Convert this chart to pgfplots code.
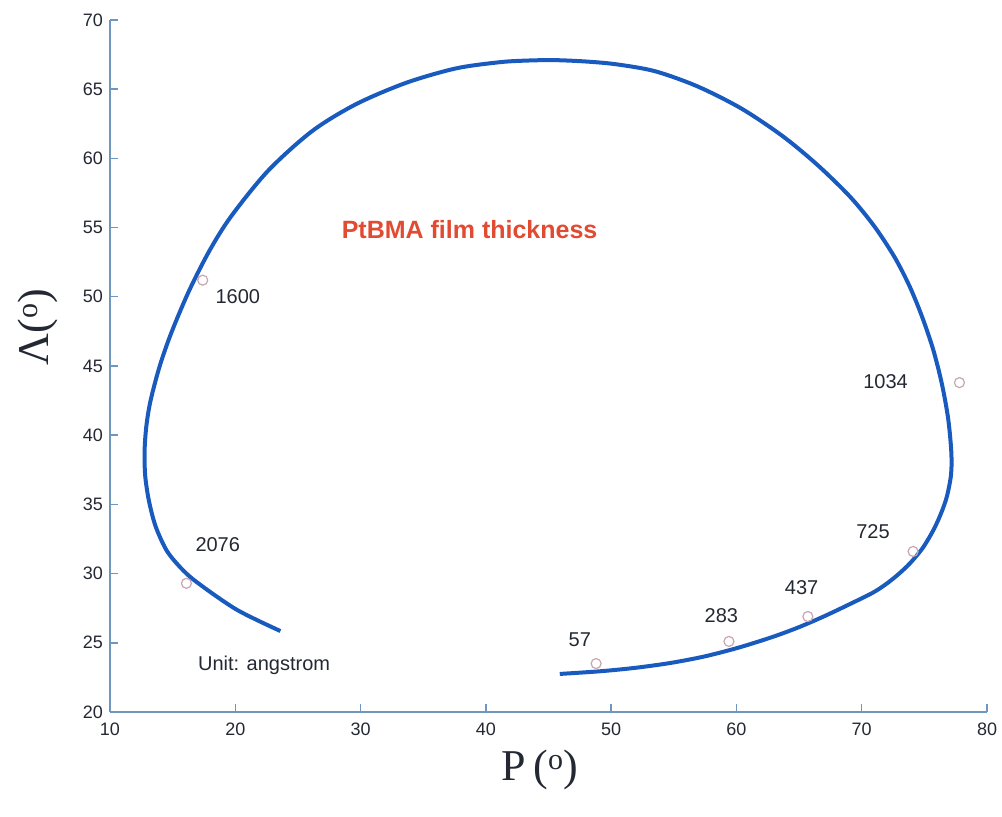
\documentclass[border=0pt]{standalone}
\usepackage{pgfplots}
\pgfplotsset{compat=1.18}
\usepackage{fontspec}
\setmainfont{Liberation Sans}
\newfontfamily\seriffont{Liberation Serif}
\definecolor{curveblue}{RGB}{25,90,190}
\definecolor{axcol}{RGB}{110,150,190}
\definecolor{mk}{RGB}{200,165,175}
\definecolor{titlered}{RGB}{225,75,50}
\definecolor{lab}{RGB}{35,40,50}
\begin{document}
\begin{tikzpicture}
\begin{axis}[
  scale only axis, width=438.5pt, height=346pt,
  xmin=10, xmax=80, ymin=20, ymax=70,
  axis lines*=left,
  axis line style={-, draw=axcol, line width=0.7pt},
  tick align=inside, major tick length=4pt,
  tick style={draw=axcol, line width=0.7pt},
  xtick={10,20,...,80}, ytick={20,25,...,70},
  ticklabel style={font=\fontsize{9}{10}\selectfont, text=lab},
  /pgf/number format/assume math mode=true,
  xticklabel style={yshift=-2pt},
  xlabel={P\,(\raisebox{0.55ex}{\fontsize{15}{15}\selectfont o})},
  ylabel={Λ(\raisebox{0.55ex}{\fontsize{15}{15}\selectfont o})},
  every axis x label/.style={at={(rel axis cs:0.49,0)}, yshift=-29pt, anchor=center, font=\seriffont\fontsize{22}{24}\selectfont, text=lab},
  every axis y label/.style={at={(rel axis cs:0,0.556)}, xshift=-36pt, rotate=90, anchor=center, font=\seriffont\fontsize{22}{24}\selectfont, text=lab},
  clip=false,
]
\addplot[curveblue, line width=2pt, smooth] coordinates {
(23.6,25.85) (20.1,27.4) (16.9,29.4) (15.60,30.46) (14.5,31.7) (13.63,33.44)
(13.10,35.29) (12.81,37.07) (12.76,38.87) (12.91,40.72) (13.25,42.55) (13.98,45.03)
(14.92,47.46) (16.31,50.43) (17.92,53.30) (19.64,55.78) (22.60,59.09) (26.10,61.95)
(29.6,63.9) (33.6,65.45) (37.6,66.5) (41.1,66.95) (43.33,67.07) (45.5,67.1)
(47.99,67.0) (50.4,66.8) (53.5,66.3) (56.9,65.2) (60.4,63.6) (63.7,61.6)
(66.5,59.5) (69.1,57.2) (71.0,55.1) (72.6,52.9) (73.8,50.8) (74.8,48.6)
(75.7,46.2) (76.4,43.7) (76.90,41.19) (77.15,38.79) (77.13,37.17)
(76.80,35.58) (76.33,34.35) (75.73,33.16) (74.85,31.83) (73.74,30.64) (72.46,29.60)
(71.06,28.71) (68.99,27.77) (66.94,26.89) (64.96,26.12) (62.94,25.44) (60.24,24.67)
(57.53,24.03) (54.78,23.55) (52.0,23.2) (49.22,22.95) (45.9,22.75)
};
\addplot[only marks, mark=o, mark size=2.5pt, draw=mk, mark options={line width=0.6pt}] coordinates {
(48.8,23.5) (59.4,25.1) (65.7,26.9) (74.1,31.6) (77.8,43.8) (17.4,51.2) (16.1,29.3)
};
\node[font=\fontsize{10}{12}\selectfont, text=lab] at (axis cs:47.5,25.2) {57};
\node[font=\fontsize{10}{12}\selectfont, text=lab] at (axis cs:58.8,27.0) {283};
\node[font=\fontsize{10}{12}\selectfont, text=lab] at (axis cs:65.2,29.0) {437};
\node[font=\fontsize{10}{12}\selectfont, text=lab] at (axis cs:70.9,33.0) {725};
\node[font=\fontsize{10}{12}\selectfont, text=lab] at (axis cs:71.9,43.9) {1034};
\node[font=\fontsize{10}{12}\selectfont, text=lab] at (axis cs:20.2,50.0) {1600};
\node[font=\fontsize{10}{12}\selectfont, text=lab] at (axis cs:18.6,32.1) {2076};
\node[font=\fontsize{10}{12}\selectfont, text=lab] at (axis cs:22.3,23.4) {Unit: angstrom};
\node[font=\bfseries\fontsize{12.5}{14}\selectfont, text=titlered] at (axis cs:38.7,54.85) {PtBMA film thickness};
\end{axis}
\pgfresetboundingbox
\path ([shift={(-55pt,-52pt)}]current axis.south west) rectangle ([shift={(7.5pt,10pt)}]current axis.north east);
\end{tikzpicture}
\end{document}
